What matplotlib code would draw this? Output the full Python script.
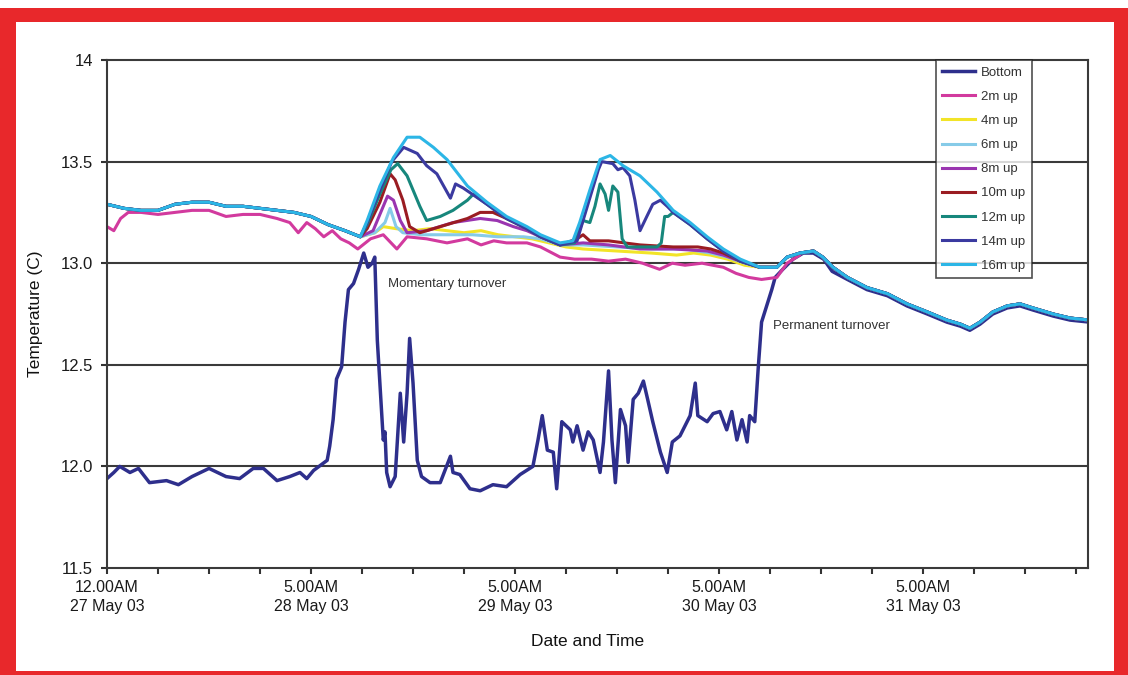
import matplotlib
matplotlib.use("Agg")
import matplotlib.pyplot as plt
from matplotlib.patches import Rectangle

plt.rcParams['font.family'] = ['Liberation Sans', 'DejaVu Sans']

# hours after 12.00AM 27 May 03 (axis spacing as drawn: 24 h between labels)
tick_hours = [0, 24, 48, 72, 96]
tick_labels = ['12.00AM\n27 May 03', '5.00AM\n28 May 03', '5.00AM\n29 May 03',
               '5.00AM\n30 May 03', '5.00AM\n31 May 03']
y_ticks = [11.5, 12.0, 12.5, 13.0, 13.5, 14.0]
y_tick_labels = ['11.5', '12.0', '12.5', '13.0', '13.5', '14']

series_names = ['Bottom', '2m up', '4m up', '6m up', '8m up', '10m up', '12m up', '14m up', '16m up']
series_colors = ['#2e2f8c', '#d23a9e', '#f2e428', '#86cbe8', '#9a35b0', '#9a1c22',
                 '#17877c', '#3b3aa0', '#2cb6e6']

# surface layer, before the first event and after the permanent turnover
mixed_start_t = [0, 2, 4, 6, 8, 10, 12, 14, 16, 18, 20, 22, 24, 26, 28]
mixed_start_v = [13.29, 13.27, 13.26, 13.26, 13.29, 13.3, 13.3, 13.28, 13.28, 13.27,
                 13.26, 13.25, 13.23, 13.19, 13.16]
mixed_end_t = [76.8, 78.8, 80, 81.5, 83.1, 84.2, 85.4, 87.1, 89.4, 91.8, 94.1, 96.5,
               98.8, 100.4, 101.5, 102.7, 104.2, 105.9, 107.4, 108.9, 111.3, 113.3, 115.6]
mixed_end_v = [12.98, 12.98, 13.03, 13.05, 13.06, 13.03, 12.98, 12.93, 12.88, 12.85, 12.8,
               12.76, 12.72, 12.7, 12.68, 12.71, 12.76, 12.79, 12.8, 12.78, 12.75, 12.73, 12.72]

bottom_t = [0, 0.8, 1.5, 2.7, 3.7, 5, 7, 8.4, 10, 12, 14, 15.6, 17.2, 18.4, 20, 21.5, 22.7,
            23.5, 24.3, 25.9, 26.2, 26.6, 27, 27.6, 28, 28.4, 29, 29.6, 30.2, 30.7, 31.2,
            31.5, 31.8, 32.1, 32.5, 32.7, 32.9, 33.3, 33.9, 34.5, 34.9, 35.3, 35.6, 36,
            36.5, 37, 38, 39.2, 40.4, 40.7, 41.5, 42.7, 43.9, 45.4, 47, 48.6, 50.1, 50.7,
            51.2, 51.8, 52.5, 52.9, 53.5, 54.5, 54.8, 55.3, 56, 56.6, 57.2, 58, 58.4, 59,
            59.4, 59.8, 60.4, 61, 61.3, 61.9, 62.5, 63.1, 63.6, 64.2, 65.1, 65.9, 66.5,
            67.4, 68.6, 69.2, 69.5, 70.6, 71.3, 72.1, 72.9, 73.5, 74.1, 74.7, 75.3, 75.6,
            76.2, 76.6, 77, 77.6, 78.2, 78.6, 79.5, 80.7, 81.9, 83.1, 84.3, 85.3, 87.1,
            89.4, 91.8, 94.1, 96.5, 98.8, 100.4, 101.5, 102.7, 104.2, 105.9, 107.4, 108.9,
            111.3, 113.3, 115.6]
bottom_v = [11.94, 11.97, 12.0, 11.97, 11.99, 11.92, 11.93, 11.91, 11.95, 11.99, 11.95,
            11.94, 11.99, 11.99, 11.93, 11.95, 11.97, 11.94, 11.98, 12.03, 12.1, 12.23,
            12.43, 12.49, 12.71, 12.87, 12.9, 12.97, 13.05, 12.98, 13.0, 13.03, 12.62,
            12.41, 12.13, 12.17, 11.97, 11.9, 11.95, 12.36, 12.12, 12.36, 12.63, 12.41,
            12.03, 11.95, 11.92, 11.92, 12.05, 11.97, 11.96, 11.89, 11.88, 11.91, 11.9,
            11.96, 12.0, 12.13, 12.25, 12.08, 12.07, 11.89, 12.22, 12.18, 12.12, 12.2,
            12.08, 12.17, 12.13, 11.97, 12.12, 12.47, 12.13, 11.92, 12.28, 12.2, 12.02,
            12.33, 12.36, 12.42, 12.33, 12.22, 12.07, 11.97, 12.12, 12.15, 12.25, 12.41,
            12.25, 12.22, 12.26, 12.27, 12.18, 12.27, 12.13, 12.23, 12.12, 12.25, 12.22,
            12.48, 12.71, 12.79, 12.87, 12.93, 12.97, 13.02, 13.05, 13.05, 13.02, 12.96,
            12.92, 12.87, 12.84, 12.79, 12.75, 12.71, 12.69, 12.67, 12.7, 12.75, 12.78,
            12.79, 12.77, 12.74, 12.72, 12.71]

m2_t = [0, 0.8, 1.6, 2.5, 4, 6, 8, 10, 12, 14, 16, 18, 20, 21.5, 22.5, 23.5, 24.5, 25.5,
        26.5, 27.5, 28.5, 29.5, 31, 32.5, 34.1, 35.3, 37.6, 40, 42.4, 44, 45.5, 47, 49.4,
        51, 53.3, 55, 57, 59, 61, 63, 65, 66.5, 68, 70, 72.5, 74, 75.5, 77, 78.8, 80, 81.5]
m2_v = [13.18, 13.16, 13.22, 13.25, 13.25, 13.24, 13.25, 13.26, 13.26, 13.23, 13.24, 13.24,
        13.22, 13.2, 13.15, 13.2, 13.17, 13.13, 13.16, 13.12, 13.1, 13.07, 13.12, 13.14,
        13.07, 13.13, 13.12, 13.1, 13.12, 13.09, 13.11, 13.1, 13.1, 13.08, 13.03, 13.02,
        13.02, 13.01, 13.02, 13.0, 12.97, 13.0, 12.99, 13.0, 12.98, 12.95, 12.93, 12.92,
        12.93, 13.0, 13.04]

m4_t = [29.8, 31.5, 32.5, 34, 36, 38, 40, 42, 44, 46, 48, 50, 52, 54, 56, 60, 64, 67, 69,
        71, 73, 75]
m4_v = [13.13, 13.15, 13.18, 13.17, 13.16, 13.17, 13.16, 13.15, 13.16, 13.14, 13.13, 13.12,
        13.1, 13.08, 13.07, 13.06, 13.05, 13.04, 13.05, 13.04, 13.02, 12.99]

m6_t = [29.8, 31.5, 32.7, 33.3, 34, 34.8, 37, 40, 43, 46, 49, 51, 53.3, 56, 60, 64, 68, 71,
        73, 75]
m6_v = [13.13, 13.15, 13.2, 13.27, 13.18, 13.15, 13.14, 13.14, 13.14, 13.13, 13.13, 13.12,
        13.09, 13.09, 13.08, 13.07, 13.07, 13.05, 13.03, 13.0]

m8_t = [29.8, 31.3, 32.2, 33, 33.7, 34.5, 35.3, 37.6, 40.7, 43.9, 45.9, 47.8, 49.4, 51,
        53.3, 56, 59, 62.7, 66.6, 70.6, 72.5, 74.5]
m8_v = [13.13, 13.16, 13.25, 13.33, 13.31, 13.21, 13.15, 13.16, 13.2, 13.22, 13.21, 13.18,
        13.16, 13.13, 13.09, 13.1, 13.09, 13.07, 13.07, 13.06, 13.04, 13.01]

m10_t = [29.8, 30.6, 32.1, 33.3, 33.9, 34.8, 35.6, 36.8, 39.2, 42.4, 43.9, 45.4, 47, 49.4,
         51, 53.3, 55.3, 56, 56.8, 59, 62.7, 66.6, 69.5, 71, 72.5, 74.5]
m10_v = [13.13, 13.17, 13.3, 13.44, 13.41, 13.31, 13.18, 13.15, 13.18, 13.22, 13.25, 13.25,
         13.22, 13.17, 13.13, 13.09, 13.12, 13.14, 13.11, 13.11, 13.09, 13.08, 13.08, 13.07,
         13.05, 13.01]

m12_t = [29.8, 30.6, 32.1, 33.4, 34.2, 35.3, 36, 36.8, 37.6, 39.2, 40.7, 42.4, 43.1, 44.7,
         47, 49.4, 51, 53.3, 55, 56, 56.8, 57.4, 58, 58.6, 59, 59.5, 60.1, 60.6, 61.2, 62.7,
         64.7, 65.2, 65.6, 66, 66.6, 68.6, 70.6, 72.5, 74.5]
m12_v = [13.13, 13.19, 13.34, 13.46, 13.49, 13.43, 13.36, 13.28, 13.21, 13.23, 13.26, 13.31,
         13.34, 13.29, 13.22, 13.17, 13.13, 13.09, 13.1, 13.21, 13.2, 13.28, 13.39, 13.34,
         13.26, 13.38, 13.35, 13.12, 13.08, 13.08, 13.08, 13.1, 13.23, 13.23, 13.25, 13.19,
         13.12, 13.06, 13.01]

m14_t = [29.8, 30.6, 32.1, 33.5, 34.9, 36.5, 37.6, 38.8, 39.6, 40.4, 41, 41.9, 44.7, 47,
         49.4, 51, 53.3, 55.3, 56, 57.8, 58.2, 59.5, 60.1, 60.7, 61.5, 62.1, 62.7, 63.5,
         64.2, 65.1, 65.9, 66.6, 68.6, 70.6, 72.5, 74.5]
m14_v = [13.13, 13.2, 13.36, 13.5, 13.57, 13.54, 13.48, 13.44, 13.38, 13.32, 13.39, 13.37,
         13.29, 13.22, 13.17, 13.13, 13.09, 13.11, 13.21, 13.46, 13.5, 13.49, 13.46, 13.47,
         13.43, 13.31, 13.16, 13.23, 13.29, 13.31, 13.28, 13.25, 13.19, 13.12, 13.06, 13.01]

m16_t = [29.8, 30.6, 32.1, 33.7, 35.3, 36.8, 38.4, 40, 42.4, 44.7, 47, 49.4, 51, 53.3, 54.8,
         55.6, 56.8, 58, 59.2, 60.7, 62.7, 64.7, 66.6, 68.6, 70.6, 72.5, 74.5]
m16_v = [13.13, 13.21, 13.38, 13.52, 13.62, 13.62, 13.57, 13.51, 13.38, 13.3, 13.23, 13.18,
         13.14, 13.1, 13.11, 13.2, 13.36, 13.51, 13.53, 13.48, 13.43, 13.35, 13.26, 13.2,
         13.13, 13.07, 13.02]

series_t = [bottom_t, m2_t + mixed_end_t[3:]]
series_v = [bottom_v, m2_v + mixed_end_v[3:]]
for t, v in [(m4_t, m4_v), (m6_t, m6_v), (m8_t, m8_v), (m10_t, m10_v),
             (m12_t, m12_v), (m14_t, m14_v), (m16_t, m16_v)]:
    series_t.append(mixed_start_t + t + mixed_end_t)
    series_v.append(mixed_start_v + v + mixed_end_v)

fig = plt.figure(figsize=(11.28, 6.75), dpi=100)
fig.patch.set_facecolor('white')

# red frame round the figure
red = '#e8282b'
for x0, y0, w, h in [(0, 1 - 22 / 675, 1, 14 / 675), (0, 0, 16 / 1128, 1 - 8 / 675),
                     (1 - 14 / 1128, 0, 14 / 1128, 1 - 8 / 675), (0, 0, 1, 4 / 675)]:
    fig.patches.append(Rectangle((x0, y0), w, h, transform=fig.transFigure,
                                 facecolor=red, edgecolor='none', zorder=0))

ax = fig.add_axes([107 / 1128, 1 - 568 / 675, 981 / 1128, 508 / 675])
ax.set_facecolor('white')

for name, color, t, v in zip(series_names, series_colors, series_t, series_v):
    lw = 2.5 if name == 'Bottom' else 2.2
    ax.plot(t, v, color=color, lw=lw, label=name, solid_joinstyle='round')

ax.set_xlim(0, 115.4)
ax.set_ylim(11.5, 14.0)
ax.set_yticks(y_ticks)
ax.set_yticklabels(y_tick_labels, fontsize=12, color='#1a1a1a')
ax.set_xticks(tick_hours)
ax.set_xticklabels(tick_labels, fontsize=11.5, color='#1a1a1a', linespacing=1.3)
ax.set_xticks(range(0, 115, 6), minor=True)
ax.tick_params(axis='x', which='both', direction='out', length=4, width=1.5,
               color='#333333', pad=5)
ax.tick_params(axis='y', direction='out', length=4, width=1.5, color='#333333', pad=6)

for yv in [12.0, 12.5, 13.0, 13.5]:
    ax.axhline(yv, color='#3a3a3a', lw=1.5, zorder=0.5)
for sp in ax.spines.values():
    sp.set_color('#3a3a3a')
    sp.set_linewidth(1.5)

ax.text(33.1, 12.9, 'Momentary turnover', fontsize=9.5, color='#333333', va='center')
ax.text(78.4, 12.69, 'Permanent turnover', fontsize=9.5, color='#333333', va='center')

ax.set_ylabel('Temperature (C)', fontsize=12.5, color='#111111')
ax.yaxis.set_label_coords((43 - 107) / 981, 0.5)
fig.text(588 / 1128, 1 - 641 / 675, 'Date and Time', fontsize=12.5, color='#111111',
         ha='center', va='center')

leg = ax.legend(loc='upper right', bbox_to_anchor=(0.943, 1.0), fontsize=9.5,
                frameon=True, fancybox=False, borderaxespad=0, handlelength=2.5,
                labelspacing=0.9, handletextpad=0.45, borderpad=0.5)
leg.get_frame().set_edgecolor('#222222')
leg.get_frame().set_linewidth(1.2)
for txt in leg.get_texts():
    txt.set_color('#333333')

fig.savefig('out.png', dpi=100)
